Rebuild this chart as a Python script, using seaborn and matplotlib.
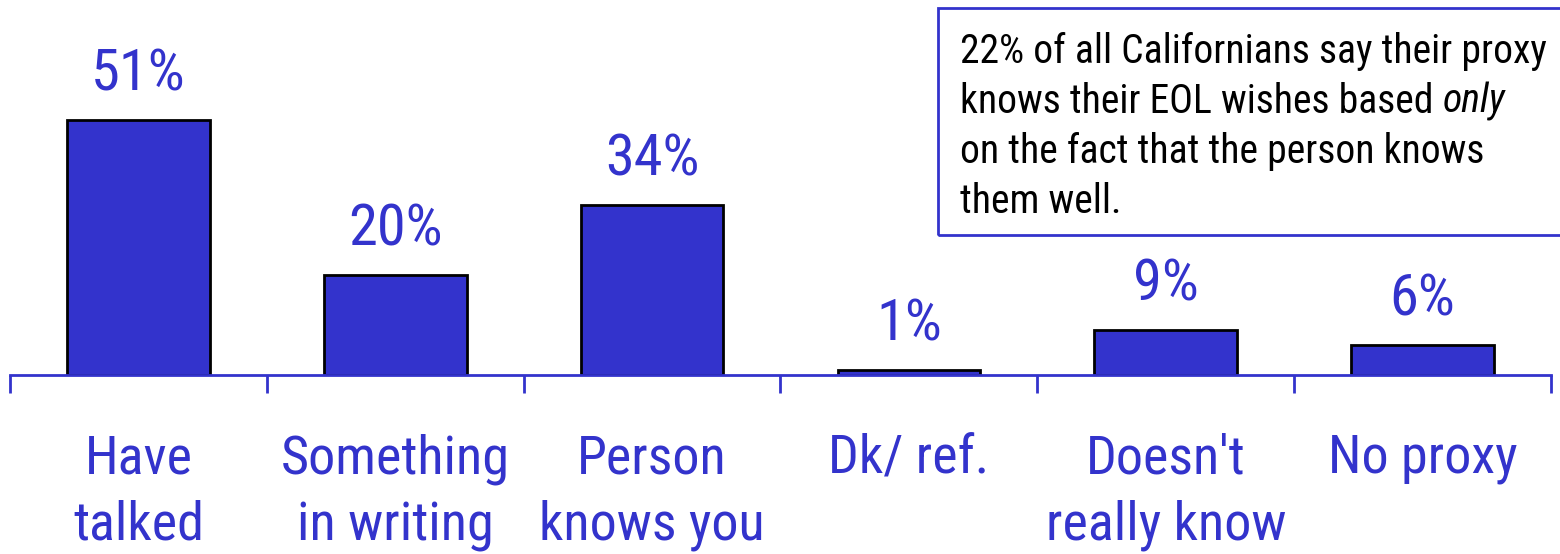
import matplotlib
matplotlib.use("Agg")
import matplotlib.pyplot as plt
from matplotlib.patches import Rectangle
from matplotlib import font_manager
import seaborn as sns
import pandas as pd

categories = ["Have\ntalked", "Something\nin writing", "Person\nknows you",
              "Dk/ ref.", "Doesn't\nreally know", "No proxy"]
values = [51, 20, 34, 1, 9, 6]
value_labels = ["51%", "20%", "34%", "1%", "9%", "6%"]
note_lines = ["22% of all Californians say their proxy",
              "knows their EOL wishes based ",
              "on the fact that the person knows",
              "them well."]
note_italic = "only"

BLUE = "#3333CC"

sns.set_theme(style="white")
fonts = font_manager.fontManager.ttflist
available = {f.name for f in fonts}
preferred = ["Liberation Sans Narrow", "Arial Narrow", "Roboto Condensed",
             "Archivo Narrow", "PT Sans Narrow", "Liberation Sans", "DejaVu Sans"]
family = [f for f in preferred if f in available] or ["DejaVu Sans"]
main_font = family[0]
italic_font = next((f for f in family
                    if any(e.name == f and e.style == "italic" for e in fonts)), main_font)
plt.rcParams["font.family"] = [main_font, "DejaVu Sans"]

W, H, DPI = 1560, 554, 100
fig = plt.figure(figsize=(W / DPI, H / DPI), dpi=DPI)
ax_top, ax_bottom = 0, 375
ax_left, ax_right = 10, 1551
ax = fig.add_axes([ax_left / W, 1 - ax_bottom / H,
                   (ax_right - ax_left) / W, (ax_bottom - ax_top) / H])

df = pd.DataFrame({"category": categories, "value": values})
sns.barplot(data=df, x="category", y="value", color=BLUE, saturation=1,
            edgecolor="black", linewidth=2, width=0.556, ax=ax)

ax.set_xlim(-0.5, len(categories) - 0.5)
ax.set_ylim(0, 75)
ax.set_xlabel("")
ax.set_ylabel("")
ax.set_yticks([])
for side in ["top", "right", "left"]:
    ax.spines[side].set_visible(False)
ax.spines["bottom"].set_color(BLUE)
ax.spines["bottom"].set_linewidth(2)

# Category labels centred under bars, boundary tick marks between them
ax.set_xticks(range(len(categories)))
ax.set_xticklabels(categories, fontsize=39, color=BLUE, linespacing=1.38)
ax.set_xticks([i - 0.5 for i in range(len(categories) + 1)], minor=True)
ax.tick_params(axis="x", which="major", bottom=True, length=0, pad=42)
ax.tick_params(axis="x", which="minor", bottom=True, length=13, width=2,
               color=BLUE, direction="out")

for i, (v, lab) in enumerate(zip(values, value_labels)):
    ax.annotate(lab, xy=(i, v), xytext=(0, 21), textcoords="offset points",
                ha="center", va="baseline", fontsize=42, color=BLUE)

# Note box in the upper right
fig.patches.append(Rectangle((938 / W, 1 - 235 / H), 700 / W, 227 / H,
                             transform=fig.transFigure, fill=False,
                             edgecolor=BLUE, linewidth=2))
x0 = 960 / W
baselines = [63, 113, 163, 213]
texts = []
for line, b in zip(note_lines, baselines):
    texts.append(fig.text(x0, 1 - b / H, line, fontsize=28.5, color="black",
                          ha="left", va="baseline"))
ax.annotate(note_italic, xy=(1, 0), xycoords=texts[1], ha="left", va="bottom",
            fontsize=28.5, style="italic", family=[italic_font, "DejaVu Sans"],
            color="black", annotation_clip=False)

fig.savefig("out.png", dpi=DPI)
